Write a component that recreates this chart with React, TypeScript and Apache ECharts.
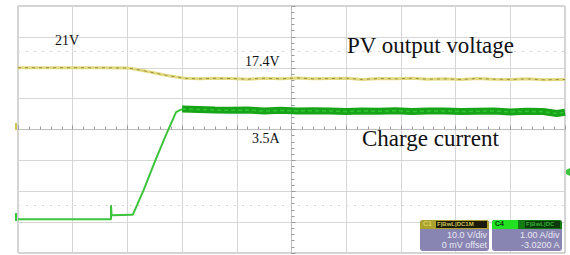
import React, { useEffect, useRef } from "react";
import * as echarts from "echarts";

// Oscilloscope screen: 10 horizontal divisions (-5..5), 8 vertical divisions (-4..4)
const voltTime = [-5, -4, -3.5, -3, -2.9, -2.7, -2.5, -2.3, -2.1, -1.95, -1.7, -1.4, -1.1, -0.8, -0.5, -0.2, 0.1, 0.4, 0.7, 1.0, 1.3, 1.6, 1.9, 2.2, 2.5, 2.8, 3.1, 3.4, 3.7, 4.0, 4.3, 4.6, 5];
const voltDiv = [2.0, 2.0, 2.0, 1.99, 1.97, 1.9, 1.83, 1.76, 1.7, 1.66, 1.64, 1.66, 1.65, 1.63, 1.66, 1.64, 1.67, 1.64, 1.65, 1.66, 1.62, 1.65, 1.64, 1.66, 1.63, 1.64, 1.62, 1.65, 1.63, 1.62, 1.64, 1.61, 1.62];

const currTime = [-5, -3.3, -3.3, -3.29, -2.92, -2.9, -2.7, -2.5, -2.3, -2.11, -2.04, -1.98];
const currDiv = [-2.91, -2.91, -2.45, -2.78, -2.76, -2.76, -1.95, -1.05, -0.2, 0.56, 0.63, 0.66];

const currBandTime = [-2.0, -1.7, -1.4, -1.1, -0.8, -0.5, -0.2, 0.1, 0.4, 0.7, 1.0, 1.3, 1.6, 1.9, 2.2, 2.5, 2.8, 3.1, 3.4, 3.7, 4.0, 4.3, 4.6, 4.85, 5];
const currBandDiv = [0.66, 0.65, 0.63, 0.62, 0.63, 0.6, 0.62, 0.6, 0.61, 0.6, 0.58, 0.6, 0.59, 0.61, 0.58, 0.6, 0.6, 0.58, 0.59, 0.6, 0.57, 0.59, 0.58, 0.52, 0.56];

const labels = [
  { text: "21V", x: 55, y: 42, size: 14 },
  { text: "17.4V", x: 245, y: 63, size: 14 },
  { text: "PV output voltage", x: 347, y: 48, size: 23 },
  { text: "3.5A", x: 252, y: 140, size: 14 },
  { text: "Charge current", x: 362, y: 141, size: 23 },
];

const pairs = (xs: number[], ys: number[]) => xs.map((x, i) => [x, ys[i]]);

export default function App() {
  const ref = useRef<HTMLDivElement>(null);
  useEffect(() => {
    if (!ref.current) return;
    const chart = echarts.init(ref.current, undefined, { renderer: "svg" });
    const tickStyle = { color: "#9a9a9a", width: 1 };
    chart.setOption({
      animation: false,
      backgroundColor: "#ffffff",
      grid: { left: 18, right: 5, top: 6, bottom: 2, show: true, borderColor: "#a8a8a8", borderWidth: 1 },
      xAxis: {
        type: "value",
        min: -5,
        max: 5,
        interval: 1,
        axisLabel: { show: false },
        axisLine: { show: true, onZero: true, lineStyle: { color: "#bdbdbd" } },
        axisTick: { show: true, inside: true, length: 4, lineStyle: tickStyle },
        minorTick: { show: true, splitNumber: 5, length: 3, lineStyle: tickStyle },
        splitLine: { show: true, lineStyle: { color: "#d6d6d6" } },
      },
      yAxis: {
        type: "value",
        min: -4,
        max: 4,
        interval: 1,
        axisLabel: { show: false },
        axisLine: { show: true, onZero: true, lineStyle: { color: "#bdbdbd" } },
        axisTick: { show: true, inside: true, length: 4, lineStyle: tickStyle },
        minorTick: { show: true, splitNumber: 5, length: 3, lineStyle: tickStyle },
        splitLine: { show: true, lineStyle: { color: "#d6d6d6" } },
      },
      series: [
        {
          type: "line",
          data: pairs(voltTime, voltDiv),
          showSymbol: false,
          lineStyle: { color: "#e2da80", width: 3 },
          z: 3,
          markLine: {
            silent: true,
            symbol: "none",
            label: { show: false },
            lineStyle: { color: "#d4d4d4", type: [2, 6], width: 1 },
            data: [{ yAxis: 2.52 }, { yAxis: -2.46 }],
          },
        },
        {
          type: "line",
          data: pairs(voltTime, voltDiv),
          showSymbol: false,
          lineStyle: { color: "#9a8d3e", width: 1, type: [3, 4] },
          z: 4,
        },
        {
          type: "line",
          data: pairs(currTime, currDiv),
          showSymbol: false,
          lineStyle: { color: "#3cc43c", width: 2 },
          z: 3,
        },
        {
          type: "line",
          data: pairs(currBandTime, currBandDiv),
          showSymbol: false,
          lineStyle: { color: "#18a418", width: 7 },
          z: 3,
        },
        {
          type: "line",
          data: pairs(currBandTime, currBandDiv),
          showSymbol: false,
          lineStyle: { color: "#2fc52f", width: 1.5, type: [4, 3] },
          z: 4,
        },
      ],
      graphic: [
        ...labels.map((l) => ({
          type: "text",
          left: l.x,
          top: l.y - l.size * 0.6,
          style: { text: l.text, font: `${l.size}px "Liberation Serif", serif`, fill: "#111" },
          z: 10,
        })),
        // channel ground markers
        { type: "rect", shape: { x: 15, y: 123, width: 2, height: 7 }, style: { fill: "#cfc85a" } },
        { type: "rect", shape: { x: 15, y: 213, width: 2, height: 8 }, style: { fill: "#3cc43c" } },
        { type: "polygon", shape: { points: [[566, 170], [570, 168], [570, 176], [566, 174]] }, style: { fill: "#3cc43c" } },
        // C1 info box
        { type: "rect", shape: { x: 420, y: 220, width: 69, height: 31, r: 3 }, style: { fill: "#8985b2" }, z: 20 },
        { type: "rect", shape: { x: 420, y: 220, width: 69, height: 9, r: [3, 3, 0, 0] }, style: { fill: "#aaa22c" }, z: 21 },
        { type: "text", left: 423, top: 220, style: { text: "C1", font: "bold 7px Arial", fill: "#d8d060" }, z: 22 },
        { type: "rect", shape: { x: 436, y: 221, width: 51, height: 7 }, style: { fill: "#1c1a08" }, z: 22 },
        { type: "text", left: 437, top: 221, style: { text: "F|BwL|DC1M", font: "bold 6px Arial", fill: "#c8c050" }, z: 23 },
        { type: "text", right: 83, top: 230, style: { text: "10.0 V/div", font: "9px Arial", fill: "#e8e8f4", align: "right" }, z: 22 },
        { type: "text", right: 83, top: 240, style: { text: "0 mV offset", font: "9px Arial", fill: "#e8e8f4", align: "right" }, z: 22 },
        // C4 info box
        { type: "rect", shape: { x: 492, y: 220, width: 70, height: 31, r: 3 }, style: { fill: "#8985b2" }, z: 20 },
        { type: "rect", shape: { x: 492, y: 220, width: 70, height: 9, r: [3, 3, 0, 0] }, style: { fill: "#127c12" }, z: 21 },
        { type: "rect", shape: { x: 492, y: 220, width: 26, height: 9, r: [3, 0, 0, 0] }, style: { fill: "#22e022" }, z: 22 },
        { type: "text", left: 495, top: 220, style: { text: "C4", font: "bold 7px Arial", fill: "#0a3a0a" }, z: 23 },
        { type: "rect", shape: { x: 525, y: 221, width: 35, height: 7 }, style: { fill: "#0c3a0c" }, z: 22 },
        { type: "text", left: 526, top: 221, style: { text: "F|BwL|DC", font: "bold 6px Arial", fill: "#30b030" }, z: 23 },
        { type: "text", right: 10, top: 230, style: { text: "1.00 A/div", font: "9px Arial", fill: "#e8e8f4", align: "right" }, z: 22 },
        { type: "text", right: 10, top: 240, style: { text: "-3.0200 A", font: "9px Arial", fill: "#e8e8f4", align: "right" }, z: 22 },
      ],
    });
    return () => chart.dispose();
  }, []);
  return (
    <div
      ref={ref}
      style={{ position: "fixed", left: 0, top: 0, width: 570, height: 255, background: "#fff" }}
    />
  );
}
